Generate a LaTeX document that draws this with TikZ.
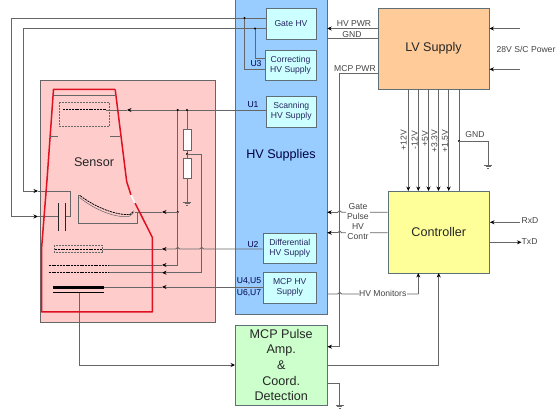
\documentclass[tikz,border=0pt]{standalone}
\usepackage{fontspec}
\setmainfont{Liberation Sans}
\usetikzlibrary{arrows.meta}
\definecolor{hvblue}{HTML}{99CCFF}
\definecolor{hvcyan}{HTML}{CCFFFF}
\definecolor{lvorange}{HTML}{FFCC99}
\definecolor{ctyellow}{HTML}{FFFF99}
\definecolor{mcgreen}{HTML}{CCFFCC}
\definecolor{pinkbg}{HTML}{FFCCCC}
\definecolor{redline}{HTML}{DD1122}
\definecolor{wire}{HTML}{666666}
\definecolor{edge}{HTML}{5F6F78}
\definecolor{txt}{HTML}{444444}
\tikzset{
  conn/.style={draw=wire,line width=0.85pt},
  arr/.style={conn,-{Stealth[length=4.5pt,width=4pt,color=black]}},
  box/.style={draw=edge,line width=0.9pt,inner sep=0pt,align=center,text=txt,font=\fontsize{8.6}{10.3}\selectfont},
  hvbox/.style={box,fill=hvcyan,text=txt!70!blue!80!black},
  bigbox/.style={box,text=black!85,font=\fontsize{12.6}{15.6}\selectfont},
  lab/.style={inner sep=0pt,align=center,text=txt,font=\fontsize{8.6}{10.3}\selectfont},
  biglab/.style={inner sep=0pt,text=black!85,font=\fontsize{12.6}{15.6}\selectfont},
  dotj/.style={fill=black,draw=none,circle,minimum size=2.4pt,inner sep=0pt},
  redout/.style={draw=redline,line width=1.5pt,line join=round},
  plate/.style={draw=black!85,line width=1.5pt},
  dash1/.style={draw=black,line width=0.8pt,dash pattern=on 2pt off 0.8pt},
  thinbox/.style={draw=wire,line width=0.6pt,dash pattern=on 2pt off 1pt},
  gnd/.pic={\draw[conn] (-4,0)--(4,0) (-2.5,1.5)--(2.5,1.5) (-1,3)--(1,3);}
}
\def\hopl{.. controls +(-0.8,-2.2) and +(0.8,-2.2) .. ++(-4,0)}
\def\hopr{.. controls +(0.8,-2.2) and +(-0.8,-2.2) .. ++(4,0)}
\begin{document}
\begin{tikzpicture}[x=1pt,y=-1pt]
\useasboundingbox (0,0) rectangle (560,414);
% backgrounds
\node[fill=pinkbg,draw=wire,line width=0.8pt,minimum width=175pt,minimum height=242pt,inner sep=0pt] (pink) at (127.5,201.5) {};
\node[fill=hvblue,minimum width=91.5pt,minimum height=314pt,inner sep=0pt] (hv) at (281.25,157) {};
\draw[draw=edge,line width=0.8pt] (hv.north west)--(hv.south west)--(hv.south east)--(hv.north east);
\node[biglab,text=blue!25!black] (hvlab) at (281,155) {HV Supplies};
\node[biglab] (senslab) at (94,162) {Sensor};
% boxes
\node[hvbox,minimum width=50pt,minimum height=31pt] (gate) at (291,23.5) {Gate HV};
\node[hvbox,minimum width=51pt,minimum height=30pt] (corr) at (290.5,65) {Correcting\\HV Supply};
\node[hvbox,minimum width=50.5pt,minimum height=31pt] (scan) at (291.25,111.5) {Scanning\\HV Supply};
\node[hvbox,minimum width=53.5pt,minimum height=30pt] (diff) at (289.75,248) {Differential\\HV Supply};
\node[hvbox,minimum width=53.5pt,minimum height=31pt] (mcphv) at (289.75,287.5) {MCP HV\\Supply};
\node[bigbox,fill=lvorange,minimum width=111pt,minimum height=81pt] (lv) at (433.5,48.5) {LV Supply};
\node[bigbox,fill=ctyellow,minimum width=101.5pt,minimum height=82pt] (ctrl) at (438.75,232) {Controller};
\node[bigbox,fill=mcgreen,minimum width=91.5pt,minimum height=80pt] (pulse) at (281.25,365) {MCP Pulse\\Amp.\\\&\\Coord.\\Detection};
% coordinates
\coordinate (capa) at (58.7,216.5);
\coordinate (capb) at (65.7,216);
\coordinate (j1) at (244.5,18);
\coordinate (j2) at (255,28.5);
\coordinate (v1) at (177.7,110);
\coordinate (v2) at (187,110);
\coordinate (jr) at (187,154);
\coordinate (gndA) at (187,202);
\coordinate (jgnd) at (459,141);
\coordinate (gndB) at (488,165);
\coordinate (gndC) at (339.7,405);
\coordinate (s28a) at (520,28.5);
\coordinate (s28b) at (520,69.3);
\coordinate (rx) at (520,222.3);
\node[lab,anchor=west] (txd) at (521.5,241.5) {TxD};
\node[lab,anchor=west] (rxd) at (521.5,220.5) {RxD};
% gate wires
\draw[arr] (gate.west |- 0,18) -- (11.5,18) -- (11.5,216.5) -- (38,216.5);
\draw[conn] (38,216.5) -- (capa);
\draw[arr] (gate.west |- 0,28.5) -- (23.5,28.5) -- (23.5,191) -- (38,191);
\draw[conn] (38,191) -- (70.3,191) -- (70.3,216) -- (capb);
\draw[conn] (j1) -- (244.5,69.5) -- (corr.west |- 0,69.5);
\draw[conn] (j2) -- (255,58) -- (corr.west |- 0,58);
\node[dotj] at (j1) {};
\node[dotj] at (j2) {};
% capacitor
\draw[plate] (58.7,203) -- (58.7,231) (65.7,203) -- (65.7,231);
% scanning
\draw[arr] (scan.west |- v1) -- (127,110);
\draw[conn] (127,110) -- (106,110);
\node[draw=wire,line width=0.6pt,fill=white,minimum width=8pt,minimum height=21pt,inner sep=0pt] (r1) at (187.4,139.5) {};
\node[draw=wire,line width=0.6pt,fill=white,minimum width=8pt,minimum height=20pt,inner sep=0pt] (r2) at (187.4,168) {};
\draw[conn] (v2) -- (r1.north -| v2);
\draw[conn] (r1.south -| v2) -- (r2.north -| v2);
\draw[conn] (r2.south -| v2) -- (gndA);
\pic at (gndA) {gnd};
\draw[conn] (v1) -- (177.7,265);
\node[dotj] at (v1) {};
\node[dotj] at (v2) {};
\node[dotj] at (jr) {};
\node[dotj] at (177.7,212) {};
\draw[conn] (jr) -- (201.7,154) -- (201.7,272.7) -- (164,272.7);
% sensor grid feeds
\draw[arr] (177.7,212) -- (162,212);
\draw[conn] (162,212) -- (135,212);
\draw[arr] (177.7,265) -- (162,265);
\draw[conn] (162,265) -- (108,265);
\draw[arr] (175,272.7) -- (162,272.7);
\draw[conn] (162,272.7) -- (108,272.7);
\draw[conn] (diff.west |- 0,249) -- (203.7,249) \hopl -- (179.7,249) \hopl -- (162,249);
\draw[arr] (166,249) -- (162,249);
\draw[conn] (162,249) -- (103,249);
\draw[arr] (mcphv.west |- 0,287) -- (162,287);
\draw[conn] (162,287) -- (103.5,287);
\draw[conn] (79.4,293) -- (79.4,365);
\draw[arr] (79.4,365) -- (pulse.west |- 0,365);
% sensor outline
\draw[redout] (115.2,89.5) -- (53.5,89.5) -- (47,180) -- (41.7,246.7) -- (41.7,312) -- (152.3,312) -- (152.3,237.3) -- (135,203);
\draw[redout] (115.2,89.5) -- (126.7,181.7) -- (131,195);
\draw[white,line width=1.5pt] (131,195) -- (135,203);
\draw[conn] (53.5,95.5) -- (116,95.5);
\draw[conn] (50,136.7) -- (58,136.7) (110,136.7) -- (120,136.7);
% scanning detector
\draw[thinbox] (59.7,102.3) rectangle (109.3,126.7);
\draw[dash1] (63.3,109.7) -- (106,109.7);
% curved detector
\draw[conn] (137.3,212) -- (137.3,223.3) -- (78.3,223.3) -- (78.3,195.3) -- (80.5,195.3);
\draw[draw=wire,line width=0.5pt] (79.5,197.5) .. controls (95,210) and (115,218) .. (129,216.5) -- (134,212.5);
\draw[dash1] (80.5,196) .. controls (96,207.5) and (116,215.5) .. (130,214.5) -- (134,211);
% differential grid
\draw[thinbox] (54,245.3) rectangle (102.7,252.7);
\draw[dash1] (55,249.3) -- (102,249.3);
\draw[dash1] (48.7,265) -- (108,265) (48.7,272.7) -- (108,272.7);
% MCP plates
\draw[draw=black,line width=2.2pt] (53,287.5) -- (103.5,287.5);
\draw[draw=black,line width=1pt] (53,292.8) -- (104,292.8);
% HV/LV wires
\draw[arr] (lv.west |- 0,28.5) -- (hv.east |- 0,28.5);
\draw[conn] (lv.west |- 0,38.7) -- (hv.east |- 0,38.7);
\draw[conn] (lv.west |- 0,73.7) -- (339.7,73.7) -- (339.7,346.7);
\draw[arr] (339.7,346.7) -- (pulse.east |- 0,346.7);
\draw[conn] (pulse.east |- 0,383.3) -- (339.7,383.3) -- (gndC);
\pic at (gndC) {gnd};
\draw[arr] (s28a) -- (lv.east |- s28a);
\draw[arr] (s28b) -- (lv.east |- s28b);
\foreach \x in {408.3,418.3,428.5,438.5,448.7}
  \draw[arr] (\x,89) -- (\x,191);
\draw[conn] (459,89) -- (459,191);
\node[dotj] at (jgnd) {};
\draw[conn] (jgnd) -- (488,141) -- (gndB);
\pic at (gndB) {gnd};
\draw[arr] (rx) -- (ctrl.east |- rx);
\draw[arr] (ctrl.east |- 0,242.3) -- (txd.west |- 0,242.3);
% controller to HV
\draw[conn] (ctrl.west |- 0,212.3) -- (341.7,212.3) \hopl;
\draw[arr] (337.7,212.3) -- (hv.east |- 0,212.3);
\draw[conn] (ctrl.west |- 0,232.7) -- (341.7,232.7) \hopl;
\draw[arr] (337.7,232.7) -- (hv.east |- 0,232.7);
\node[lab,fill=white,inner xsep=1pt,inner ysep=0pt] (gplab) at (358,221.5) {Gate\\Pulse\\HV\\Contr};
% monitors
\draw[conn] (hv.east |- 0,294) -- (337.7,294) \hopr -- (418.3,294);
\draw[arr] (418.3,294) -- (418.3,273);
\node[lab,fill=white,inner xsep=0.5pt] (hvm) at (382.7,293.5) {HV Monitors};
\draw[conn] (pulse.east |- 0,365.3) -- (438.7,365.3);
\draw[arr] (438.7,365.3) -- (438.7,273);
% labels
\node[lab,text=blue!30!black] (lu3) at (256,64) {U3};
\node[lab,text=blue!30!black] (lu1) at (253,105) {U1};
\node[lab,text=blue!30!black] (lu2) at (253,245) {U2};
\node[lab,text=blue!30!black] (lu45) at (249,281) {U4,U5};
\node[lab,text=blue!30!black] (lu67) at (249,293.5) {U6,U7};
\node[lab] (lhvp) at (354,24) {HV PWR};
\node[lab] (lgnd) at (352,35) {GND};
\node[lab] (lmcp) at (355,68.5) {MCP PWR};
\node[lab] (l28) at (526,49.5) {28V S/C Power};
\node[lab] (lgnd2) at (475,134.5) {GND};
\node[lab,rotate=90] (l12p) at (403.5,140) {+12V};
\node[lab,rotate=90] (l12m) at (414.5,140) {-12V};
\node[lab,rotate=90] (l5) at (425,139) {+5V};
\node[lab,rotate=90] (l33) at (434.5,141) {+3.3V};
\node[lab,rotate=90] (l15) at (445,141) {+1.5V};
\end{tikzpicture}
\end{document}
